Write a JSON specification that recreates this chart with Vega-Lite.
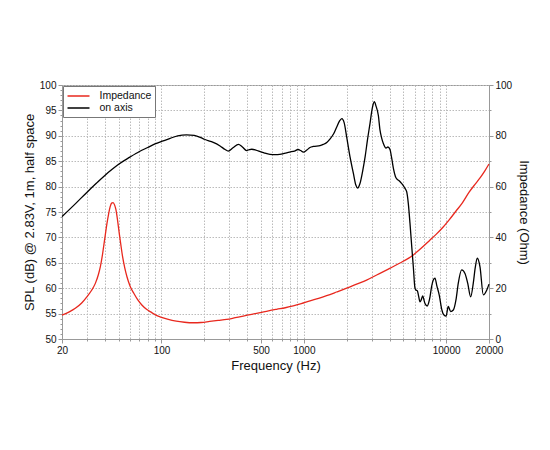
{
  "$schema": "https://vega.github.io/schema/vega-lite/v6.json",
  "width": 427,
  "height": 254,
  "autosize": {"type": "none"},
  "padding": {"left": 62, "top": 85, "right": 61, "bottom": 111},
  "background": "white",
  "config": {
    "font": "Liberation Sans",
    "view": {"stroke": "#999999"},
    "axis": {
      "labelFont": "Liberation Sans",
      "labelFontSize": 10,
      "labelColor": "#111111",
      "titleFont": "Liberation Sans",
      "titleFontSize": 13,
      "titleFontWeight": "normal",
      "titleColor": "#111111",
      "domainColor": "#999999",
      "tickColor": "#999999",
      "gridColor": "#bbbbbb",
      "gridDash": [1.5, 1.5]
    }
  },
  "datasets": {
    "spl": [
      {"f": 20, "db": 74.1}, {"f": 25, "db": 76.7}, {"f": 30, "db": 78.9}, {"f": 35, "db": 80.7},
      {"f": 40, "db": 82.2}, {"f": 45, "db": 83.4}, {"f": 50, "db": 84.4}, {"f": 60, "db": 85.8},
      {"f": 70, "db": 86.9}, {"f": 80, "db": 87.7}, {"f": 90, "db": 88.4}, {"f": 100, "db": 88.9},
      {"f": 115, "db": 89.5}, {"f": 130, "db": 90.0}, {"f": 150, "db": 90.2}, {"f": 170, "db": 90.1},
      {"f": 197, "db": 89.4}, {"f": 215, "db": 89.0}, {"f": 231, "db": 88.7}, {"f": 258, "db": 88.0},
      {"f": 280, "db": 87.3}, {"f": 294, "db": 87.0}, {"f": 320, "db": 87.7}, {"f": 347, "db": 88.3},
      {"f": 370, "db": 87.8}, {"f": 396, "db": 87.1}, {"f": 415, "db": 87.3}, {"f": 431, "db": 87.35},
      {"f": 460, "db": 87.2}, {"f": 494, "db": 86.9}, {"f": 530, "db": 86.6}, {"f": 578, "db": 86.35},
      {"f": 630, "db": 86.3}, {"f": 677, "db": 86.35}, {"f": 740, "db": 86.6}, {"f": 795, "db": 86.8},
      {"f": 860, "db": 87.0}, {"f": 911, "db": 87.3}, {"f": 950, "db": 87.1}, {"f": 992, "db": 86.8},
      {"f": 1050, "db": 87.2}, {"f": 1105, "db": 87.7}, {"f": 1167, "db": 87.9}, {"f": 1300, "db": 88.05},
      {"f": 1370, "db": 88.3}, {"f": 1450, "db": 88.7}, {"f": 1530, "db": 89.4}, {"f": 1620, "db": 90.4},
      {"f": 1700, "db": 91.7}, {"f": 1780, "db": 92.9}, {"f": 1850, "db": 93.4}, {"f": 1920, "db": 92.6},
      {"f": 2000, "db": 89.8}, {"f": 2110, "db": 85.9}, {"f": 2230, "db": 82.6}, {"f": 2320, "db": 80.3},
      {"f": 2390, "db": 79.7}, {"f": 2480, "db": 80.6}, {"f": 2600, "db": 83.3}, {"f": 2700, "db": 86.0},
      {"f": 2800, "db": 89.2}, {"f": 2920, "db": 92.5}, {"f": 3030, "db": 95.5}, {"f": 3126, "db": 96.7},
      {"f": 3220, "db": 95.8}, {"f": 3340, "db": 94.0}, {"f": 3430, "db": 91.1}, {"f": 3520, "db": 89.6},
      {"f": 3620, "db": 88.5}, {"f": 3780, "db": 87.6}, {"f": 3900, "db": 87.8}, {"f": 4030, "db": 87.3},
      {"f": 4150, "db": 85.5}, {"f": 4260, "db": 83.6}, {"f": 4400, "db": 82.0}, {"f": 4500, "db": 81.5},
      {"f": 4650, "db": 81.2}, {"f": 4800, "db": 80.8}, {"f": 5000, "db": 80.2}, {"f": 5150, "db": 79.6},
      {"f": 5280, "db": 79.0}, {"f": 5420, "db": 76.7}, {"f": 5570, "db": 72.8}, {"f": 5730, "db": 68.2},
      {"f": 5880, "db": 64.2}, {"f": 6040, "db": 60.0}, {"f": 6150, "db": 59.6}, {"f": 6270, "db": 59.5},
      {"f": 6400, "db": 58.5}, {"f": 6550, "db": 57.3}, {"f": 6700, "db": 57.8}, {"f": 6850, "db": 58.5},
      {"f": 6980, "db": 57.7}, {"f": 7100, "db": 57.0}, {"f": 7370, "db": 56.5}, {"f": 7550, "db": 57.2},
      {"f": 7700, "db": 58.3}, {"f": 7900, "db": 60.3}, {"f": 8120, "db": 61.6}, {"f": 8350, "db": 62.0},
      {"f": 8580, "db": 60.6}, {"f": 8950, "db": 58.6}, {"f": 9300, "db": 55.9}, {"f": 9660, "db": 54.7},
      {"f": 9980, "db": 54.5}, {"f": 10350, "db": 56.4}, {"f": 10760, "db": 55.4}, {"f": 11230, "db": 55.7},
      {"f": 11720, "db": 57.7}, {"f": 12170, "db": 61.0}, {"f": 12860, "db": 63.6}, {"f": 13560, "db": 62.9},
      {"f": 14170, "db": 61.0}, {"f": 14870, "db": 58.3}, {"f": 15510, "db": 61.0}, {"f": 16000, "db": 64.0},
      {"f": 16550, "db": 65.9}, {"f": 17290, "db": 64.2}, {"f": 18240, "db": 58.7}, {"f": 19270, "db": 59.6},
      {"f": 20000, "db": 60.8}
    ],
    "imp": [
      {"f": 20, "ohm": 9.4}, {"f": 22.5, "ohm": 10.7}, {"f": 24.8, "ohm": 12.1}, {"f": 27.5, "ohm": 14.2},
      {"f": 30, "ohm": 16.7}, {"f": 32.3, "ohm": 19.2}, {"f": 34.3, "ohm": 21.9}, {"f": 36, "ohm": 25.3},
      {"f": 37.2, "ohm": 28.5}, {"f": 38.3, "ohm": 32.4}, {"f": 39.2, "ohm": 36.3}, {"f": 40.3, "ohm": 41.0},
      {"f": 41.4, "ohm": 45.5}, {"f": 42.5, "ohm": 49.2}, {"f": 43.6, "ohm": 52.1}, {"f": 44.6, "ohm": 53.5},
      {"f": 45.7, "ohm": 53.7}, {"f": 46.8, "ohm": 52.8}, {"f": 47.9, "ohm": 50.8}, {"f": 49.2, "ohm": 46.5},
      {"f": 50.5, "ohm": 41.6}, {"f": 51.9, "ohm": 36.8}, {"f": 53.3, "ohm": 32.4}, {"f": 55.2, "ohm": 28.0},
      {"f": 57.2, "ohm": 24.5}, {"f": 60.2, "ohm": 20.8}, {"f": 63.9, "ohm": 18.0}, {"f": 68, "ohm": 15.5},
      {"f": 72.8, "ohm": 13.4}, {"f": 78.5, "ohm": 11.7}, {"f": 85.5, "ohm": 10.4}, {"f": 92, "ohm": 9.3},
      {"f": 100, "ohm": 8.5}, {"f": 110, "ohm": 7.8}, {"f": 127, "ohm": 7.0}, {"f": 145, "ohm": 6.6},
      {"f": 167, "ohm": 6.4}, {"f": 190, "ohm": 6.5}, {"f": 218, "ohm": 6.9}, {"f": 250, "ohm": 7.3},
      {"f": 287, "ohm": 7.7}, {"f": 330, "ohm": 8.4}, {"f": 375, "ohm": 9.05}, {"f": 430, "ohm": 9.7},
      {"f": 494, "ohm": 10.4}, {"f": 565, "ohm": 11.1}, {"f": 644, "ohm": 11.7}, {"f": 740, "ohm": 12.3},
      {"f": 843, "ohm": 13.0}, {"f": 960, "ohm": 13.9}, {"f": 1105, "ohm": 15.0}, {"f": 1270, "ohm": 16.0},
      {"f": 1446, "ohm": 17.05}, {"f": 1700, "ohm": 18.5}, {"f": 2000, "ohm": 20.0}, {"f": 2350, "ohm": 21.6},
      {"f": 2760, "ohm": 23.2}, {"f": 3250, "ohm": 25.2}, {"f": 3830, "ohm": 27.2}, {"f": 4700, "ohm": 29.8},
      {"f": 5880, "ohm": 33.1}, {"f": 6700, "ohm": 35.8}, {"f": 7650, "ohm": 38.8}, {"f": 8500, "ohm": 41.2},
      {"f": 9500, "ohm": 44.0}, {"f": 10500, "ohm": 46.9}, {"f": 11700, "ohm": 50.3}, {"f": 13000, "ohm": 53.6},
      {"f": 14500, "ohm": 57.8}, {"f": 16000, "ohm": 61.0}, {"f": 17300, "ohm": 63.4}, {"f": 18700, "ohm": 66.2},
      {"f": 20000, "ohm": 68.9}
    ]
  },
  "layer": [
    {
      "data": {"name": "imp"},
      "mark": {"type": "line", "strokeWidth": 1.3, "interpolate": "monotone"},
      "encoding": {
        "x": {
          "field": "f",
          "type": "quantitative",
          "scale": {"type": "log", "domain": [20, 20000], "nice": false},
          "axis": {
            "title": "Frequency (Hz)",
            "values": [20, 30, 40, 50, 60, 70, 80, 90, 100, 200, 300, 400, 500, 600, 700, 800, 900, 1000, 2000, 3000, 4000, 5000, 6000, 7000, 8000, 9000, 10000, 20000],
            "format": "d",
            "labelExpr": "indexof([20, 100, 500, 1000, 10000, 20000], datum.value) >= 0 ? datum.label : ''",
            "labelFlush": false,
            "labelOverlap": false,
            "labelPadding": 2,
            "titlePadding": 4,
            "grid": true,
            "tickSize": {"condition": {"test": "indexof([20, 100, 500, 1000, 10000, 20000], datum.value) >= 0", "value": 4}, "value": 2}
          }
        },
        "y": {
          "field": "ohm",
          "type": "quantitative",
          "scale": {"domain": [0, 100], "nice": false},
          "axis": {
            "orient": "right",
            "title": "Impedance (Ohm)",
            "values": [0, 10, 20, 30, 40, 50, 60, 70, 80, 90, 100],
            "labelExpr": "datum.value % 20 === 0 ? datum.label : ''",
            "labelPadding": 2,
            "titlePadding": 5,
            "grid": false,
            "tickSize": {"condition": {"test": "datum.value % 20 === 0", "value": 4}, "value": 2}
          }
        },
        "color": {
          "datum": "Impedance",
          "scale": {"domain": ["Impedance", "on axis"], "range": ["#e8281e", "#000000"]},
          "legend": {
            "orient": "none",
            "legendX": 1,
            "legendY": 1,
            "title": null,
            "symbolType": "M-1,0H3",
            "symbolSize": 121,
            "symbolStrokeWidth": 1.5,
            "labelFont": "Liberation Sans",
            "labelFontSize": 10.5,
            "labelColor": "#111111",
            "labelOffset": 20,
            "strokeColor": "#777777",
            "fillColor": "white",
            "padding": 3.5,
            "rowPadding": 0
          }
        }
      }
    },
    {
      "data": {"name": "spl"},
      "mark": {"type": "line", "strokeWidth": 1.3, "interpolate": "monotone"},
      "encoding": {
        "x": {"field": "f", "type": "quantitative"},
        "y": {
          "field": "db",
          "type": "quantitative",
          "scale": {"domain": [50, 100], "nice": false},
          "axis": {
            "orient": "left",
            "title": "SPL (dB) @ 2.83V, 1m, half space",
            "values": [50, 51, 52, 53, 54, 55, 56, 57, 58, 59, 60, 61, 62, 63, 64, 65, 66, 67, 68, 69, 70, 71, 72, 73, 74, 75, 76, 77, 78, 79, 80, 81, 82, 83, 84, 85, 86, 87, 88, 89, 90, 91, 92, 93, 94, 95, 96, 97, 98, 99, 100],
            "labelExpr": "datum.value % 5 === 0 ? datum.label : ''",
            "labelOverlap": false,
            "labelPadding": 2,
            "titlePadding": 3,
            "grid": true,
            "gridOpacity": {"condition": {"test": "datum.value % 5 === 0", "value": 1}, "value": 0},
            "tickSize": {"condition": {"test": "datum.value % 5 === 0", "value": 4}, "value": 2}
          }
        },
        "color": {"datum": "on axis"}
      }
    }
  ],
  "resolve": {"scale": {"y": "independent"}}
}
